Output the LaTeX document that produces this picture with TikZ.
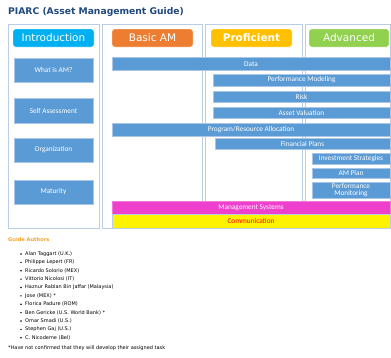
\documentclass[tikz,border=0pt]{standalone}
\usepackage{fontspec}
\setmainfont{DejaVu Sans}
\newfontfamily\barfont{Carlito}
\definecolor{framecol}{RGB}{185,205,228}
\definecolor{barblue}{RGB}{91,155,213}
\definecolor{barline}{RGB}{170,198,230}
\definecolor{introcol}{RGB}{0,176,240}
\definecolor{basiccol}{RGB}{237,125,49}
\definecolor{profcol}{RGB}{255,192,0}
\definecolor{advcol}{RGB}{146,208,80}
\definecolor{titlecol}{RGB}{31,73,125}
\definecolor{mgmtcol}{RGB}{238,64,205}
\definecolor{authcol}{RGB}{247,160,40}
\tikzset{
  colframe/.style={draw=framecol, line width=0.7pt, inner sep=0pt, outer sep=0pt},
  hdr/.style={rounded corners=2.5pt, draw=white, line width=0.4pt, text=white, inner sep=0pt, outer sep=0pt,
     minimum height=18pt, font=\fontsize{10.5}{12}\selectfont},
  bar/.style={fill=barblue, draw=barline, line width=0.4pt, text=white, inner sep=0pt, outer sep=0pt,
     align=center, font=\barfont\fontsize{7.3}{8}\selectfont},
  author/.style={anchor=west, inner sep=0pt, font=\fontsize{5}{6}\selectfont},
}
\begin{document}
\begin{tikzpicture}[x=1pt,y=-1pt]
\useasboundingbox (0,0) rectangle (391,357);
% title
\node[anchor=west, inner sep=0pt, text=titlecol, font=\bfseries\fontsize{9.2}{11}\selectfont] (title) at (8,12) {PIARC (Asset Management Guide)};
% column frames
\node[colframe, minimum width=91pt, minimum height=204pt] (fintro) at (53.5,126) {};
\node[colframe, minimum width=100pt, minimum height=204pt] (fbasic) at (152,126) {};
\node[colframe, minimum width=97pt, minimum height=204pt] (fprof) at (253.5,126) {};
\node[colframe, minimum width=85pt, minimum height=204pt] (fadv) at (347.5,126) {};
% headers
\node[hdr, fill=introcol, minimum width=81pt] (hintro) at (53.5,38) {Introduction};
\node[hdr, fill=basiccol, minimum width=81pt] (hbasic) at (152.5,38) {Basic AM};
\node[hdr, fill=profcol, minimum width=81pt, font=\bfseries\fontsize{10.5}{12}\selectfont] (hprof) at (251.5,38) {Proficient};
\node[hdr, fill=advcol, minimum width=80pt] (hadv) at (349,38) {Advanced};
% left boxes
\node[bar, minimum width=79pt, minimum height=24pt] (what) at (53.5,70) {What is AM?};
\node[bar, minimum width=79pt, minimum height=25pt] (self) at (53.5,110.5) {Self Assessment};
\node[bar, minimum width=79pt, minimum height=24pt] (org) at (53.5,150) {Organization};
\node[bar, minimum width=79pt, minimum height=24pt] (mat) at (53.5,192) {Maturity};
% bars
\node[bar, minimum width=278pt, minimum height=13pt] (data) at (251,64) {Data};
\node[bar, minimum width=177pt, minimum height=12pt] (pmod) at (301.5,80) {Performance Modeling};
\node[bar, minimum width=177pt, minimum height=11.5pt] (risk) at (301.5,96.5) {Risk};
\node[bar, minimum width=177pt, minimum height=11.5pt] (aval) at (301.5,112.5) {Asset Valuation};
\node[bar, minimum width=278pt, minimum height=13pt] (prog) at (251,129.5) {Program/Resource Allocation};
\node[bar, minimum width=175pt, minimum height=11pt] (fin) at (302.5,143.5) {Financial Plans};
\node[bar, minimum width=78pt, minimum height=11pt] (inv) at (351,158.5) {Investment Strategies};
\node[bar, minimum width=78pt, minimum height=10.5pt] (amp) at (351,173) {AM Plan};
\node[bar, minimum width=78pt, minimum height=16pt, font=\barfont\fontsize{7.3}{7.6}\selectfont] (pmon) at (351,190) {Performance\\Monitoring};
\node[bar, fill=mgmtcol, draw=mgmtcol!70!white, minimum width=278pt, minimum height=13pt] (mgmt) at (251,207.5) {Management Systems};
\node[bar, fill=yellow, draw=framecol, text=red, minimum width=278pt, minimum height=14pt] (comm) at (251,221) {Communication};
% authors
\node[anchor=west, inner sep=0pt, text=authcol, font=\bfseries\fontsize{5.1}{6}\selectfont] (gauth) at (8,240) {Guide Authors};
\foreach \nm [count=\i] in {Alan Taggart (U.K.), Philippe Lepert (FR), Ricardo Solorio (MEX), Vittorio Nicolosi (IT),
  Haznur Rablan Bin Jaffar (Malaysia), Jose (MEX) *, Florica Padure (ROM), Ben Gericke (U.S. World Bank) *,
  Omar Smadi (U.S.), Stephen Gaj (U.S.), C. Nicodeme (Bel)} {
  \fill (21,{254+(\i-1)*8.37}) circle (0.8pt);
  \node[author] (a\i) at (25,{254+(\i-1)*8.37}) {\nm};
}
\node[author] (foot) at (8,348) {*Have not confirmed that they will develop their assigned task};
\end{tikzpicture}
\end{document}
